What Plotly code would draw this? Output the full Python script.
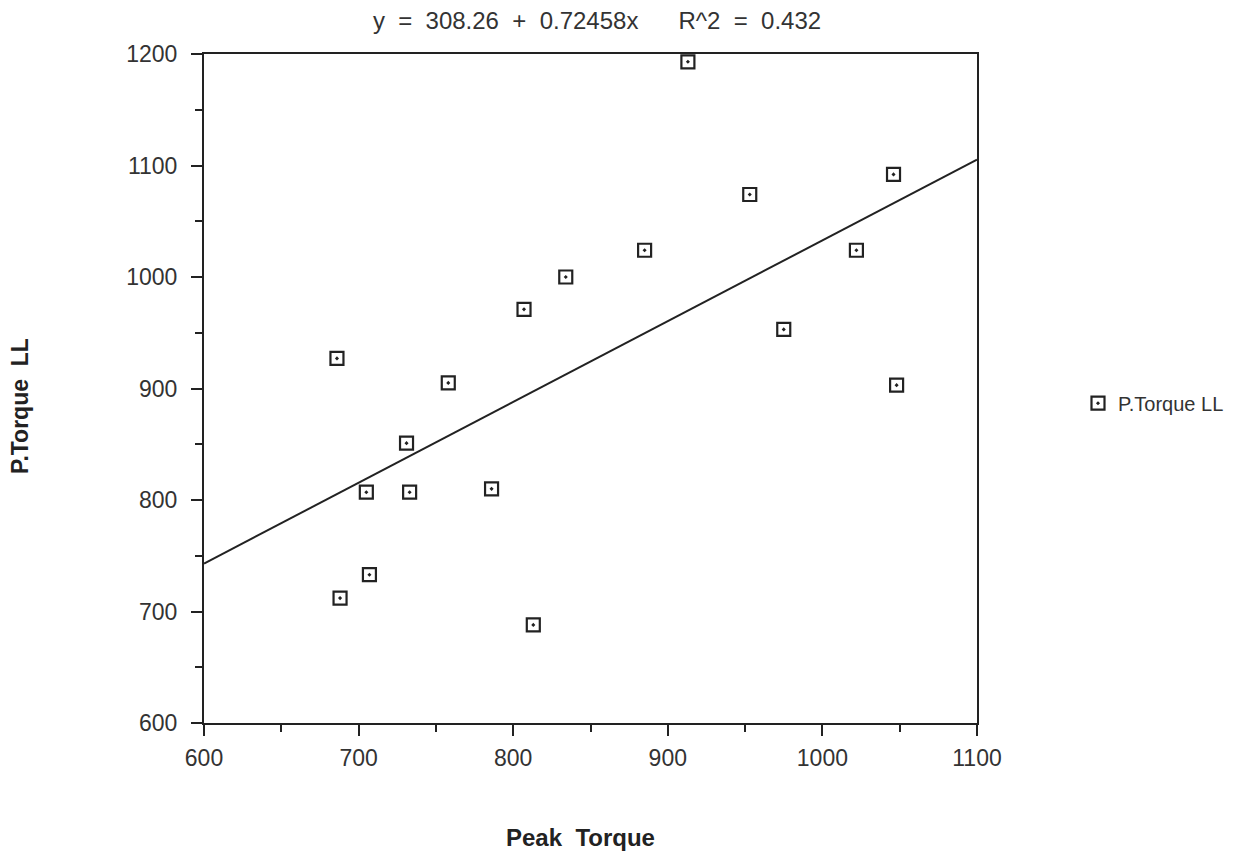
import plotly.graph_objects as go

# Data
peak_torque = [686, 688, 707, 705, 731, 733, 758, 786, 807, 813,
               834, 885, 913, 953, 975, 1022, 1046, 1048]
p_torque_ll = [927, 712, 733, 807, 851, 807, 905, 810, 971, 688,
               1000, 1024, 1193, 1074, 953, 1024, 1092, 903]

intercept = 308.26
slope = 0.72458
r_squared = 0.432
x_range = [600, 1100]
y_range = [600, 1200]

line_x = x_range
line_y = [intercept + slope * v for v in line_x]

FONT = "Liberation Sans, Arial, Helvetica, sans-serif"
INK = "#222222"
TXT = "#333333"

fig = go.Figure()
fig.add_trace(go.Scatter(
    x=line_x, y=line_y, mode="lines",
    line=dict(color=INK, width=2), showlegend=False, hoverinfo="skip",
))
fig.add_trace(go.Scatter(
    x=peak_torque, y=p_torque_ll, mode="markers", name="P.Torque LL",
    marker=dict(symbol="square-open-dot", size=13, color=INK,
                line=dict(width=2.2, color=INK)),
))

axis_common = dict(
    showgrid=False, zeroline=False, showline=True, linecolor=INK, linewidth=2,
    mirror=True, ticks="outside", ticklen=11, tickwidth=1.5, tickcolor=INK,
    tickfont=dict(family=FONT, size=23, color=TXT),
)

fig.update_xaxes(range=x_range, dtick=100, tick0=600, ticklabelstandoff=2,
                 minor=dict(dtick=50, ticks="outside", ticklen=7, tickwidth=1.5, tickcolor=INK),
                 **axis_common)
fig.update_yaxes(range=y_range, dtick=100, tick0=600, ticklabelstandoff=9,
                 minor=dict(dtick=50, ticks="outside", ticklen=7, tickwidth=1.5, tickcolor=INK),
                 **axis_common)

title_text = f"y  =  {intercept}  +  {slope}x      R^2  =  {r_squared}"

fig.update_layout(
    width=1259, height=859,
    margin=dict(l=204, r=282, t=54, b=136),
    paper_bgcolor="white", plot_bgcolor="white",
    font=dict(family=FONT, color=TXT),
    title=dict(text=title_text,
               x=597 / 1259, xanchor="center",
               y=1 - 21 / 859, yanchor="middle",
               font=dict(family=FONT, size=24, color=TXT)),
    legend=dict(x=(1078 - 204) / 773, y=0.478, xanchor="left", yanchor="middle",
                font=dict(family=FONT, size=20, color=TXT),
                bgcolor="rgba(0,0,0,0)"),
    annotations=[
        dict(text="<b>Peak  Torque</b>", xref="paper", yref="paper",
             x=(580 - 204) / 773, y=-(838 - 723) / 669, xanchor="center", yanchor="middle",
             showarrow=False, font=dict(family=FONT, size=24, color=INK)),
        dict(text="<b>P.Torque  LL</b>", xref="paper", yref="paper",
             x=-(204 - 20) / 773, y=(723 - 406) / 669, xanchor="center", yanchor="middle",
             textangle=-90, showarrow=False,
             font=dict(family=FONT, size=23, color=INK)),
    ],
)

fig.write_html("out.html")
